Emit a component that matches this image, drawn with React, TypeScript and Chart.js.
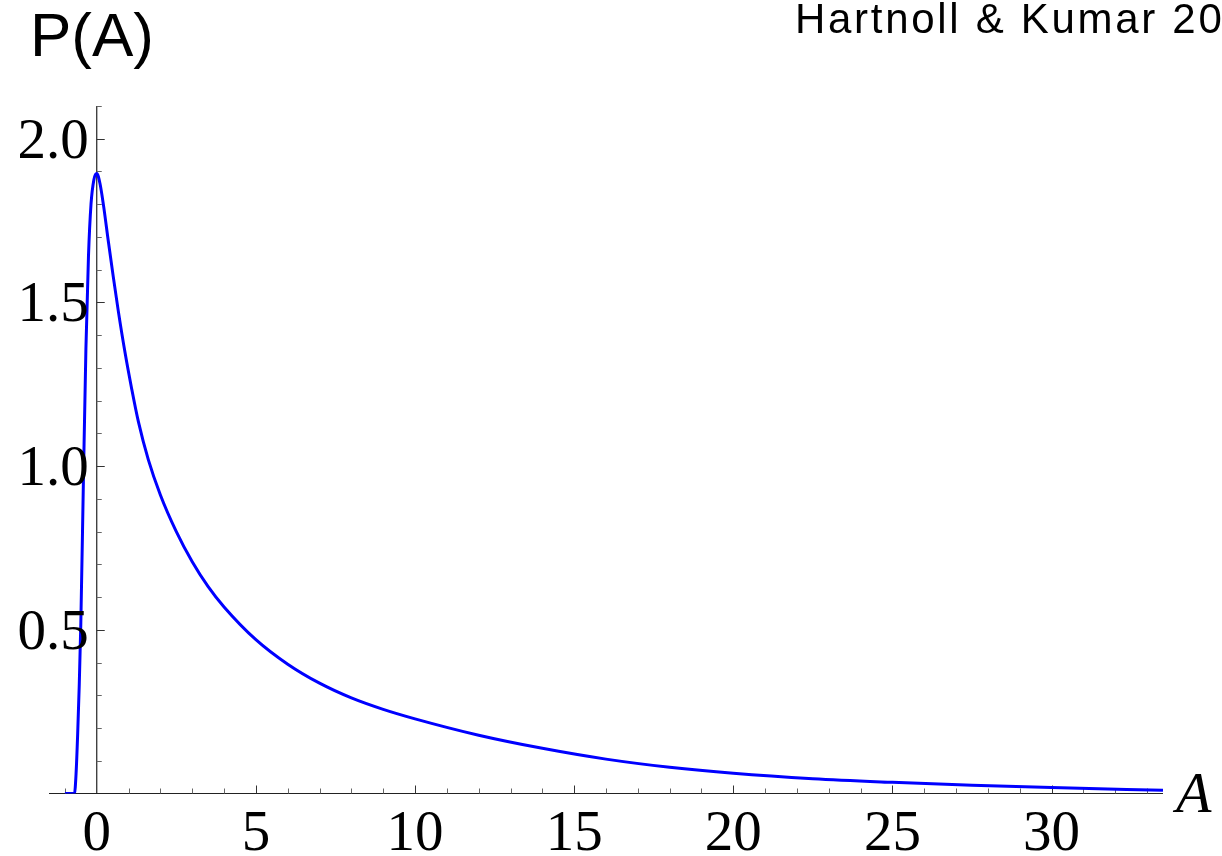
import React, { useEffect, useRef } from "react";
import { Chart, registerables } from "chart.js";

Chart.register(...registerables);

// Curve samples: A (x) and P(A) (y)
const aValues = [
  -1.0, -0.7, -0.65, -0.6, -0.55, -0.5, -0.42, -0.34, -0.26, -0.18, -0.09, 0,
  0.1, 0.21, 0.365, 0.52, 0.68, 0.89, 1.1, 1.31, 1.62, 2.0, 2.5, 3.0, 3.5, 4.0,
  5.0, 6.0, 7.0, 8.0, 9.0, 10.0, 12.0, 14.0, 16.0, 18.0, 20.0, 22.5, 25.0,
  27.5, 30.0, 33.5,
];
const pValues = [
  0, 0, 0.06, 0.18, 0.33, 0.52, 0.95, 1.36, 1.64, 1.8, 1.875, 1.894, 1.864,
  1.798, 1.686, 1.578, 1.472, 1.346, 1.235, 1.135, 1.02, 0.912, 0.8, 0.708,
  0.632, 0.57, 0.47, 0.395, 0.337, 0.292, 0.257, 0.228, 0.178, 0.138, 0.105,
  0.08, 0.0615, 0.045, 0.034, 0.025, 0.018, 0.01,
];

const xTickValues = [0, 5, 10, 15, 20, 25, 30];
const xTickLabels = ["0", "5", "10", "15", "20", "25", "30"];
const yTickValues = [0.5, 1.0, 1.5, 2.0];
const yTickLabels = ["0.5", "1.0", "1.5", "2.0"];

const X_MIN = -1.5;
const X_MAX = 33.5;
const Y_MIN = 0;
const Y_MAX = 2.1;
const X_MINOR_STEP = 1;
const Y_MINOR_STEP = 0.1;

const yTitle = "P(A)";
const xTitle = "A";
const credit = "Hartnoll & Kumar 20";

const axesPlugin = {
  id: "mmaAxes",
  beforeDatasetsDraw(chart: any) {
    const { ctx, chartArea, scales } = chart;
    const xs = scales.x;
    const ys = scales.y;
    const x0 = xs.getPixelForValue(0);
    const y0 = ys.getPixelForValue(0);
    ctx.save();
    ctx.lineCap = "butt";
    ctx.strokeStyle = "#222";
    ctx.lineWidth = 1.2;
    ctx.beginPath();
    ctx.moveTo(chartArea.left, y0);
    ctx.lineTo(chartArea.right, y0);
    ctx.stroke();
    ctx.beginPath();
    ctx.moveTo(x0, chartArea.top);
    ctx.lineTo(x0, y0);
    ctx.stroke();

    const firstX = Math.ceil(X_MIN / X_MINOR_STEP) * X_MINOR_STEP;
    for (let i = 0; ; i++) {
      const v = firstX + i * X_MINOR_STEP;
      if (v > X_MAX + 1e-9) break;
      if (Math.abs(v) < 1e-9) continue;
      const major = xTickValues.some((t) => Math.abs(t - v) < 1e-9);
      const px = Math.round(xs.getPixelForValue(v)) + 0.5;
      ctx.strokeStyle = major ? "#333" : "#666";
      ctx.lineWidth = 1;
      ctx.beginPath();
      ctx.moveTo(px, y0);
      ctx.lineTo(px, y0 - (major ? 8 : 5));
      ctx.stroke();
    }
    for (let i = 1; ; i++) {
      const v = Y_MIN + i * Y_MINOR_STEP;
      if (v > Y_MAX + 1e-9) break;
      const major = yTickValues.some((t) => Math.abs(t - v) < 1e-9);
      const py = Math.round(ys.getPixelForValue(v)) + 0.5;
      ctx.strokeStyle = major ? "#333" : "#666";
      ctx.lineWidth = 1;
      ctx.beginPath();
      ctx.moveTo(x0, py);
      ctx.lineTo(x0 + (major ? 8 : 5), py);
      ctx.stroke();
    }
    ctx.restore();
  },
  afterDraw(chart: any) {
    const { ctx, scales } = chart;
    const xs = scales.x;
    const ys = scales.y;
    const x0 = xs.getPixelForValue(0);
    const y0 = ys.getPixelForValue(0);
    ctx.save();
    ctx.fillStyle = "#000";
    ctx.font = '57px "Liberation Serif", "DejaVu Serif", serif';
    ctx.textAlign = "right";
    ctx.textBaseline = "alphabetic";
    yTickValues.forEach((v, i) => {
      const py = ys.getPixelForValue(v);
      ctx.fillText(yTickLabels[i], x0 - 8, py + 19);
    });
    ctx.textAlign = "center";
    xTickValues.forEach((v, i) => {
      const px = xs.getPixelForValue(v);
      ctx.fillText(xTickLabels[i], px, y0 + 56.5);
    });
    ctx.textAlign = "left";
    ctx.font = 'italic 58px "Liberation Serif", "DejaVu Serif", serif';
    ctx.fillText(xTitle, 1176, 812);
    ctx.font = '62px "Liberation Sans", Arial, sans-serif';
    ctx.fillText(yTitle, 30, 56);
    ctx.font = '42px "Liberation Sans", Arial, sans-serif';
    (ctx as any).letterSpacing = "2.7px";
    ctx.fillText(credit, 795, 33);
    (ctx as any).letterSpacing = "0px";
    ctx.restore();
  },
};

export default function App() {
  const canvasRef = useRef<HTMLCanvasElement | null>(null);

  useEffect(() => {
    document.body.style.margin = "0";
    const canvas = canvasRef.current;
    if (!canvas) return;
    const data = aValues.map((a, i) => ({ x: a, y: pValues[i] }));
    const chart = new Chart(canvas, {
      type: "line",
      data: {
        datasets: [
          {
            data,
            borderColor: "#0000ff",
            borderWidth: 3,
            pointRadius: 0,
            fill: false,
            cubicInterpolationMode: "monotone",
          },
        ],
      },
      options: {
        animation: false,
        responsive: false,
        devicePixelRatio: 1,
        parsing: false,
        layout: { padding: { left: 49, right: 59, top: 106, bottom: 62.5 } },
        plugins: { legend: { display: false }, tooltip: { enabled: false } },
        scales: {
          x: { type: "linear", min: X_MIN, max: X_MAX, display: false },
          y: { type: "linear", min: Y_MIN, max: Y_MAX, display: false },
        },
      } as any,
      plugins: [axesPlugin],
    });
    return () => chart.destroy();
  }, []);

  return (
    <div style={{ width: 1222, height: 856, background: "#fff" }}>
      <canvas ref={canvasRef} width={1222} height={856} style={{ display: "block" }} />
    </div>
  );
}
